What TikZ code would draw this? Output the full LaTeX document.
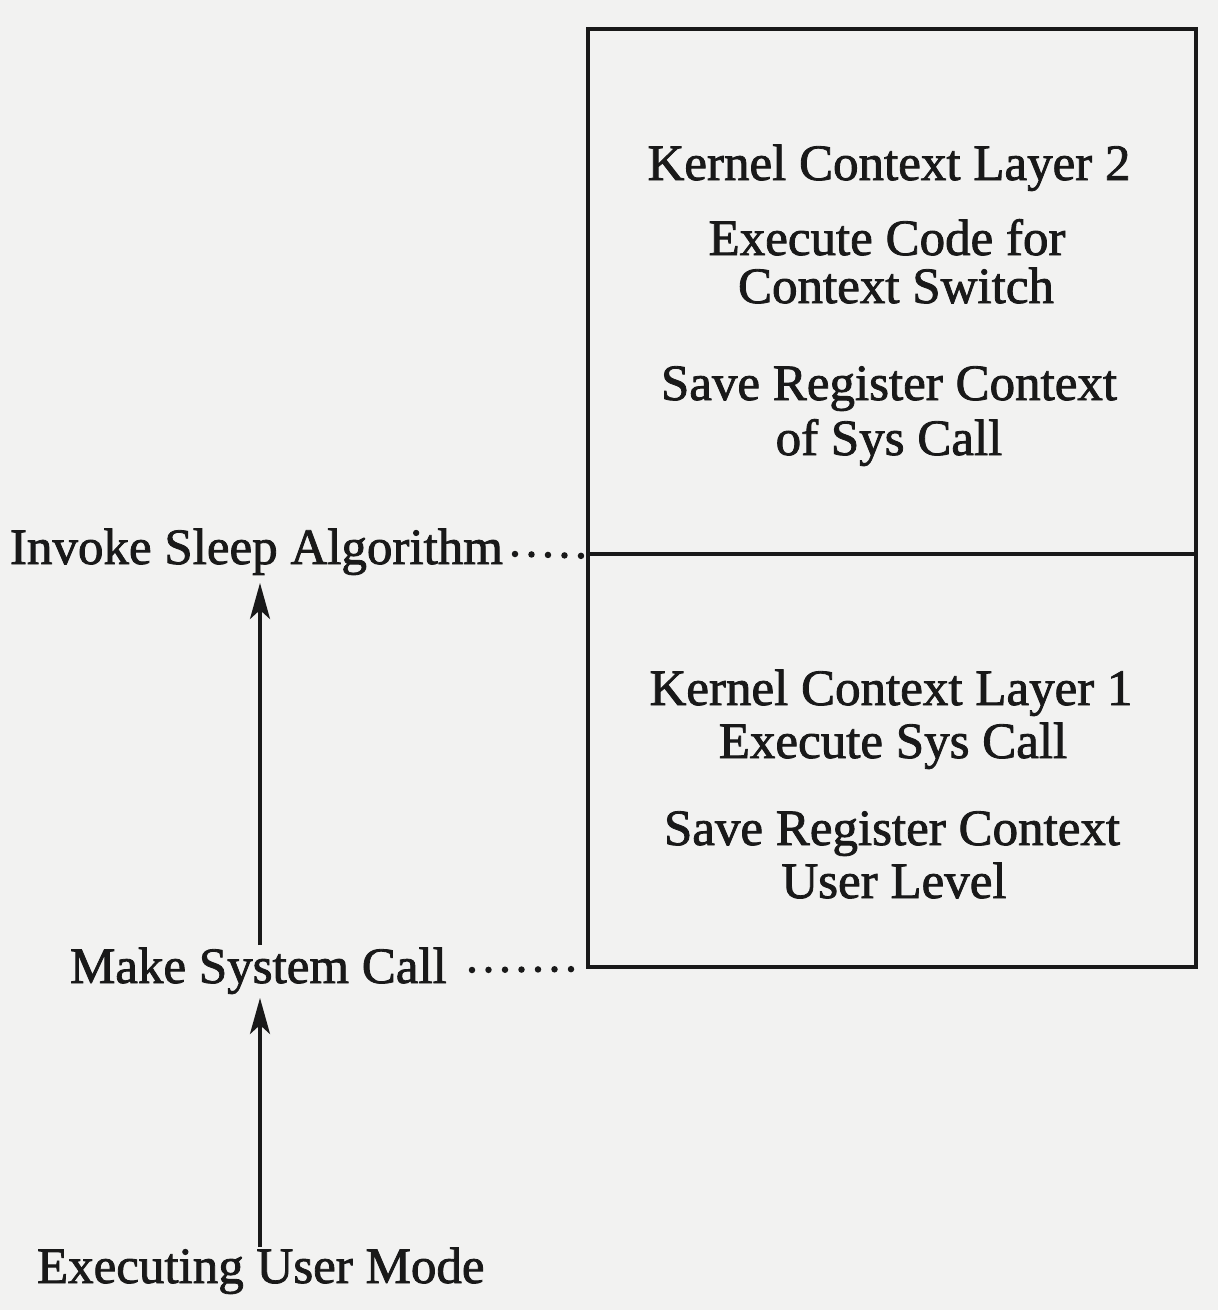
\documentclass[tikz,border=0pt]{standalone}
\usepackage{fontspec}
\setmainfont[FakeBold=1.6]{Liberation Serif}
\usetikzlibrary{arrows.meta}
\definecolor{paper}{RGB}{242,242,241}
\definecolor{ink}{RGB}{25,25,25}
\tikzset{
  lbl/.style={inner sep=0pt, outer sep=0pt, text=ink, font=\fontsize{51}{58}\selectfont},
  layerbox/.style={draw=ink, line width=4pt, minimum width=608pt, inner sep=0pt},
  dotline/.style={draw=ink, line width=6.5pt, line cap=round, dash pattern=on 0pt off 16.5pt},
  uparrow/.style={draw=ink, line width=3.2pt, -{Stealth[length=36pt,width=20pt,inset=9pt]}},
}
\begin{document}
\begin{tikzpicture}[x=1pt,y=-1pt]
  \fill[paper] (0,0) rectangle (1218,1310);
  \useasboundingbox (0,0) rectangle (1218,1310);

  % boxes
  \node[layerbox, minimum height=525pt] (upper) at (892,291.5) {};
  \node[layerbox, minimum height=413pt] (lower) at (892,760.5) {};

  % upper box text
  \node[lbl, anchor=base] (u1) at (889,180) {Kernel Context Layer 2};
  \node[lbl, anchor=base] (u2) at (887,255) {Execute Code for};
  \node[lbl, anchor=base] (u3) at (896,303) {Context Switch};
  \node[lbl, anchor=base] (u4) at (889,400) {Save Register Context};
  \node[lbl, anchor=base] (u5) at (889,455) {of Sys Call};

  % lower box text
  \node[lbl, anchor=base] (l1) at (891,705) {Kernel Context Layer 1};
  \node[lbl, anchor=base] (l2) at (893,758) {Execute Sys Call};
  \node[lbl, anchor=base] (l3) at (892,845) {Save Register Context};
  \node[lbl, anchor=base] (l4) at (894,898) {User Level};

  % left labels
  \node[lbl, anchor=base west] (inv) at (10,564) {Invoke Sleep Algorithm};
  \node[lbl, anchor=base west] (make) at (70,983) {Make System Call};
  \node[lbl, anchor=base west] (exe) at (37,1283) {Executing User Mode};

  % dotted leaders
  \coordinate (d1) at (515,554);
  \coordinate (d2) at (472,970);
  \draw[dotline] (d1) -- (upper.south west);
  \draw[dotline] (d2) -- (lower.south west);

  % arrows
  \coordinate (a1) at (260,1247);
  \coordinate (a2) at (260,998);
  \coordinate (a3) at (260,945);
  \coordinate (a4) at (260,583);
  \draw[uparrow] (a1) -- (a2);
  \draw[uparrow] (a3) -- (a4);
\end{tikzpicture}
\end{document}
